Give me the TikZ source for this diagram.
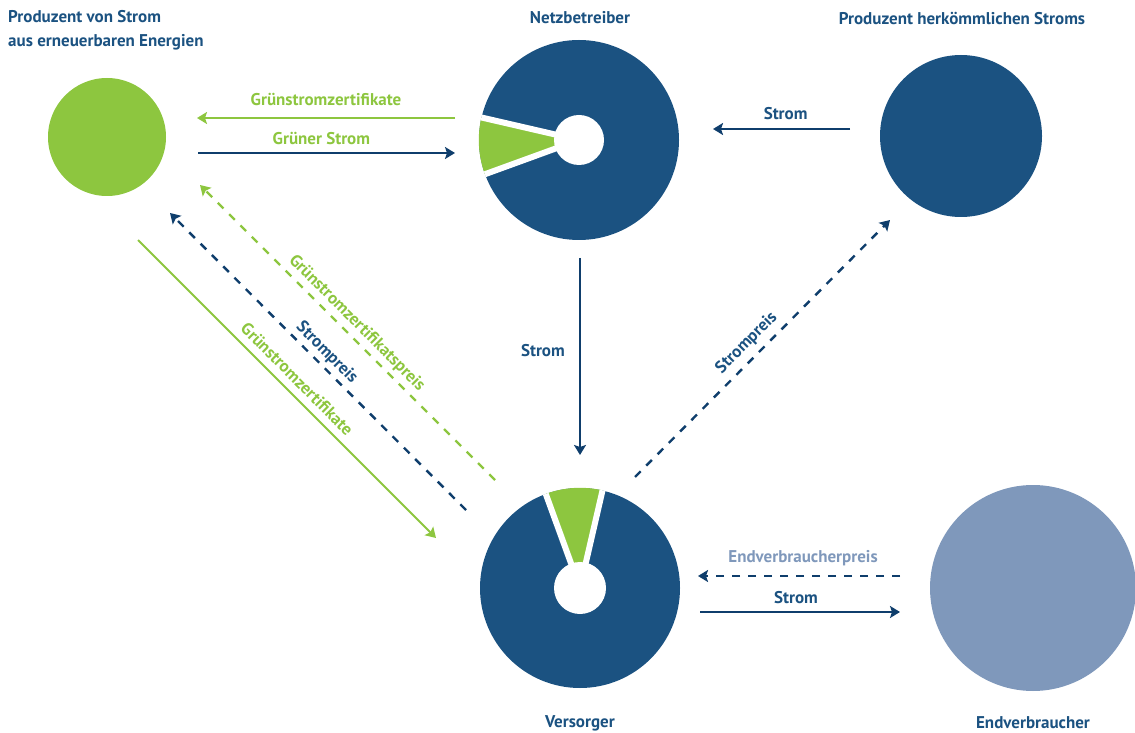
\documentclass[tikz,border=0pt]{standalone}
\usepackage{fontspec}
\setmainfont{PT Sans}
\usetikzlibrary{arrows.meta}

\definecolor{netzblau}{HTML}{1B5281}
\definecolor{pfeilblau}{HTML}{0F3E6C}
\definecolor{gruen}{HTML}{8DC63F}
\definecolor{hellblau}{HTML}{7F98BB}

\begin{document}
\begin{tikzpicture}[
    x=1pt, y=1pt,
    every node/.style={inner sep=0pt, font=\bfseries\fontsize{17}{24}\selectfont, text=netzblau},
    kreis/.style={circle, minimum size=#1},
    beschriftung/.style={text height=12pt, text depth=3.5pt},
    fluss/.style={line width=2.4pt, -{Stealth[length=10pt, width=12pt, inset=2pt]}},
    gestrichelt/.style={fluss, dash pattern=on 8pt off 8pt},
    luecke/.style={white, line width=6pt}
]
\useasboundingbox (0,0) rectangle (1135,732);

% Akteure
\node[kreis=118pt, fill=gruen] (erneuerbar) at (107,595) {};
\node[kreis=200pt, fill=netzblau] (netz) at (579,592) {};
\node[kreis=162pt, fill=netzblau] (konventionell) at (961,596) {};
\node[kreis=200pt, fill=netzblau] (versorger) at (580,144) {};
\node[kreis=206pt, fill=hellblau] (verbraucher) at (1033,144) {};

% gruener Anteil
\fill[gruen] (netz.center) -- (netz.167) arc[start angle=167, end angle=200, radius=100pt] -- cycle;
\draw[luecke] (netz.center) -- (netz.167) (netz.center) -- (netz.200);
\node[kreis=50pt, fill=white] (netzkern) at (netz) {};
\fill[gruen] (versorger.center) -- (versorger.77) arc[start angle=77, end angle=110, radius=100pt] -- cycle;
\draw[luecke] (versorger.center) -- (versorger.77) (versorger.center) -- (versorger.110);
\node[kreis=52pt, fill=white] (versorgerkern) at (versorger) {};

% Titel
\node[anchor=north west, align=left] (titelerneuerbar) at (8,722) {Produzent von Strom\\aus erneuerbaren Energien};
\node (titelnetz) at (580,714) {Netzbetreiber};
\node (titelkonventionell) at (962,714) {Produzent herkömmlichen Stroms};
\node (titelversorger) at (580,9) {Versorger};
\node (titelverbraucher) at (1033,9) {Endverbraucher};

% Endpunkte
\coordinate (zertA) at (455,614);
\coordinate (zertB) at (197,614);
\coordinate (gruenA) at (198,579);
\coordinate (gruenB) at (455,579);
\coordinate (konvA) at (850,603);
\coordinate (konvB) at (713,603);
\coordinate (netzA) at (580,474);
\coordinate (netzB) at (580,277);
\coordinate (preisA) at (635,255);
\coordinate (preisB) at (890,512);
\coordinate (zpreisA) at (495,252);
\coordinate (zpreisB) at (200,547);
\coordinate (spreisA) at (466,222);
\coordinate (spreisB) at (170,519);
\coordinate (zlieferA) at (138,492);
\coordinate (zlieferB) at (436,194);
\coordinate (endpreisA) at (900,156);
\coordinate (endpreisB) at (698,156);
\coordinate (endstromA) at (700,120);
\coordinate (endstromB) at (900,120);

% Fluesse
\draw[fluss, gruen] (zertA) -- node[beschriftung, above=7.5pt, text=gruen] (lblzert) {Grünstromzertifikate} (zertB);
\draw[fluss, pfeilblau] (gruenA) -- node[beschriftung, pos=0.48, above=3.5pt, text=gruen] (lblgruen) {Grüner Strom} (gruenB);
\draw[fluss, pfeilblau] (konvA) -- node[beschriftung, pos=0.47, above=4.5pt] (lblkonv) {Strom} (konvB);
\draw[fluss, pfeilblau] (netzA) -- node[beschriftung, pos=0.48, left=14pt] (lblnetz) {Strom} (netzB);
\draw[gestrichelt, pfeilblau] (preisA) -- node[beschriftung, pos=0.48, sloped, above=6pt] (lblpreis) {Strompreis} (preisB);
\draw[gestrichelt, gruen] (zpreisA) -- node[beschriftung, sloped, above=3.9pt, text=gruen] (lblzpreis) {Grünstromzertifikatspreis} (zpreisB);
\draw[gestrichelt, pfeilblau] (spreisA) -- node[beschriftung, sloped, above=3.2pt] (lblspreis) {Strompreis} (spreisB);
\draw[fluss, gruen, line width=2pt] (zlieferA) -- node[beschriftung, sloped, above=3.9pt, text=gruen] (lblzliefer) {Grünstromzertifikate} (zlieferB);
\draw[gestrichelt, pfeilblau] (endpreisA) -- node[beschriftung, pos=0.48, above=8.5pt, text=hellblau] (lblendpreis) {Endverbraucherpreis} (endpreisB);
\draw[fluss, pfeilblau] (endstromA) -- node[beschriftung, pos=0.48, above=3.5pt] (lblendstrom) {Strom} (endstromB);
\end{tikzpicture}
\end{document}
